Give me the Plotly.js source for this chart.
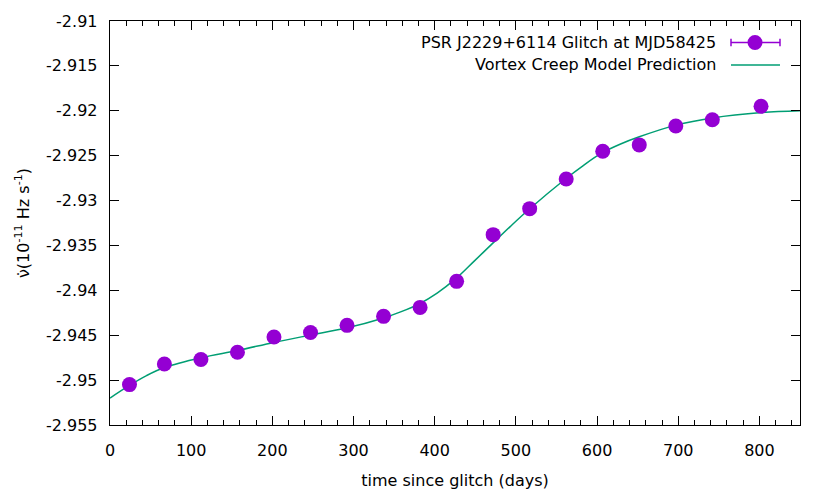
<!DOCTYPE html>
<html>
<head>
<meta charset="utf-8">
<script src="https://cdn.plot.ly/plotly-3.0.1.min.js"></script>
<style>html,body{margin:0;padding:0;background:#fff;}#chart{width:830px;height:498px;}</style>
</head>
<body>
<div id="chart"></div>
<script>
// Observed data: days since glitch and nu-dot (1e-11 Hz/s)
const obsDays = [24, 67, 112, 157, 202, 247, 292, 337, 382, 427, 472, 517, 562, 607, 652, 697, 742, 802];
const obsNuDot = [-2.9505, -2.9482, -2.9477, -2.9469, -2.9452, -2.9447, -2.9439, -2.9429, -2.9419, -2.9390, -2.9338, -2.9309, -2.9276, -2.9245, -2.9238, -2.9217, -2.9210, -2.9195];

// Vortex creep model prediction
const modelDays = [0, 22, 45, 67, 112, 157, 202, 246, 291, 336, 358, 381, 403, 426, 448, 471, 493, 516, 561, 583, 606, 629, 652, 697, 742, 803, 850];
const modelNuDot = [-2.9520, -2.9507, -2.9495, -2.9486, -2.9475, -2.9467, -2.9458, -2.9450, -2.9442, -2.9431, -2.9424, -2.9415, -2.9403, -2.9387, -2.9368, -2.9348, -2.9329, -2.9310, -2.9276, -2.9261, -2.9247, -2.9237, -2.9229, -2.9216, -2.9208, -2.9202, -2.9200];

const yTickVals = [-2.955, -2.95, -2.945, -2.94, -2.935, -2.93, -2.925, -2.92, -2.915, -2.91];
const yTickText = ['-2.955', '-2.95', '-2.945', '-2.94', '-2.935', '-2.93', '-2.925', '-2.92', '-2.915', '-2.91'];

const seriesNames = ['PSR J2229+6114 Glitch at MJD58425', 'Vortex Creep Model Prediction'];

const purple = '#9400D3';
const green = '#009E73';
const font = {family: 'DejaVu Sans, sans-serif', size: 16, color: '#000'};

const traces = [
  {
    x: modelDays, y: modelNuDot, type: 'scatter', mode: 'lines',
    line: {color: green, width: 1.5, shape: 'spline', smoothing: 1},
    name: seriesNames[1], showlegend: false, hoverinfo: 'skip'
  },
  {
    x: obsDays, y: obsNuDot, type: 'scatter', mode: 'markers',
    marker: {color: purple, size: 15, line: {width: 0}},
    name: seriesNames[0], showlegend: false
  }
];

// Manual key (text left of sample, gnuplot style)
const keyX = 0.8812, row1 = 0.9468, row2 = 0.8911;
const sx0 = 0.900, sx1 = 0.971, cx = 0.9348;
const layout = {
  width: 830, height: 498,
  margin: {l: 110, r: 30, t: 21, b: 73, pad: 0},
  paper_bgcolor: '#fff', plot_bgcolor: '#fff',
  font: font,
  showlegend: false,
  xaxis: {
    range: [0, 850], tickmode: 'linear', tick0: 0, dtick: 100,
    ticks: 'inside', ticklen: 9, tickwidth: 1, tickcolor: '#000',
    minor: {ticks: 'inside', ticklen: 5, tickwidth: 1, tickcolor: '#000', dtick: 20, tick0: 0, showgrid: false},
    showline: true, linecolor: '#000', linewidth: 1.3, mirror: 'allticks',
    showgrid: false, zeroline: false, ticklabelstandoff: 10,
    tickfont: font,
    title: {text: 'time since glitch (days)', font: font, standoff: 16}
  },
  yaxis: {
    range: [-2.955, -2.91], tickmode: 'array', tickvals: yTickVals, ticktext: yTickText,
    ticks: 'inside', ticklen: 9, tickwidth: 1, tickcolor: '#000',
    showline: true, linecolor: '#000', linewidth: 1.3, mirror: 'allticks',
    showgrid: false, zeroline: false, ticklabelstandoff: 8,
    tickfont: font,
    title: {text: 'ν\u0307(10<sup>-11</sup> Hz s<sup>-1</sup>)', font: font, standoff: 12}
  },
  annotations: [
    {xref: 'paper', yref: 'paper', x: keyX, y: row1, xanchor: 'right', yanchor: 'middle', text: seriesNames[0], showarrow: false, font: font},
    {xref: 'paper', yref: 'paper', x: keyX, y: row2, xanchor: 'right', yanchor: 'middle', text: seriesNames[1], showarrow: false, font: font}
  ],
  shapes: [
    {type: 'line', xref: 'paper', yref: 'paper', x0: sx0, x1: sx1, y0: row1, y1: row1, line: {color: purple, width: 1.5}},
    {type: 'line', xref: 'paper', yref: 'paper', x0: sx0, x1: sx0, y0: row1 - 0.0094, y1: row1 + 0.0094, line: {color: purple, width: 1.5}},
    {type: 'line', xref: 'paper', yref: 'paper', x0: sx1, x1: sx1, y0: row1 - 0.0094, y1: row1 + 0.0094, line: {color: purple, width: 1.5}},
    {type: 'circle', xref: 'paper', yref: 'paper', xsizemode: 'pixel', ysizemode: 'pixel', xanchor: cx, yanchor: row1, x0: -7.5, x1: 7.5, y0: -7.5, y1: 7.5, fillcolor: purple, line: {width: 0}},
    {type: 'line', xref: 'paper', yref: 'paper', x0: sx0, x1: sx1, y0: row2, y1: row2, line: {color: green, width: 1.5}}
  ]
};

Plotly.newPlot('chart', traces, layout, {displayModeBar: false, staticPlot: true});
</script>
</body>
</html>
